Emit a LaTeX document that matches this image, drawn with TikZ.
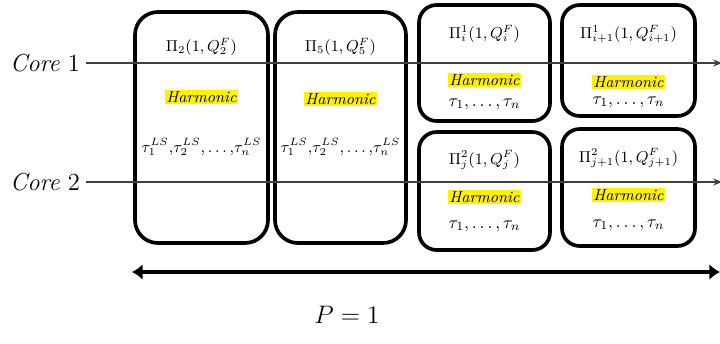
\documentclass[tikz,border=0pt]{standalone}
\usepackage{amsmath,amssymb}
\usepackage{xcolor}
\usepackage{tikz}
\usetikzlibrary{arrows.meta,positioning}

\tikzset{
  slot/.style={draw, line width=2.1pt, rounded corners=13pt, inner sep=0pt},
  smallslot/.style={slot, rounded corners=10pt},
  pilabel/.style={font=\fontsize{9}{11}\selectfont},
  harmlabel/.style={fill=yellow, inner sep=0.6pt, font=\fontsize{9}{10}\selectfont\itshape},
  taulabel/.style={font=\fontsize{10}{12}\selectfont},
  lslabel/.style={font=\fontsize{9}{11}\selectfont},
  corelabel/.style={font=\fontsize{14}{16}\selectfont},
  coreline/.style={-{Stealth[length=5pt,width=4pt]}, black!75, line width=0.6pt},
}

\begin{document}
\begin{tikzpicture}[x=0.02cm, y=-0.02cm]
  \useasboundingbox (0,0) rectangle (720,343);

  \node[slot, minimum width=2.66cm, minimum height=4.62cm] (box2) at (201.5,127.5) {};
  \node[slot, minimum width=2.62cm, minimum height=4.62cm] (box5) at (340.5,127.5) {};
  \node[smallslot, minimum width=2.62cm, minimum height=2.32cm] (boxi) at (484.5,63) {};
  \node[smallslot, minimum width=2.66cm, minimum height=2.22cm] (boxii) at (628.5,60.5) {};
  \node[smallslot, minimum width=2.62cm, minimum height=2.36cm] (boxj) at (484.5,191) {};
  \node[smallslot, minimum width=2.66cm, minimum height=2.34cm] (boxjj) at (628.5,187.5) {};

  \node[pilabel] (pi2) at (201.5,47) {$\Pi_2(1,Q_2^F)$};
  \node[harmlabel] (harm2) at (201.5,97) {Harmonic};
  \node[lslabel] (tau2) at (201.5,147) {$\tau_1^{LS}{,}\tau_2^{LS}{,}\ldots{,}\tau_n^{LS}$};

  \node[pilabel] (pi5) at (340.5,47) {$\Pi_5(1,Q_5^F)$};
  \node[harmlabel] (harm5) at (340.5,99) {Harmonic};
  \node[lslabel] (tau5) at (340.5,147) {$\tau_1^{LS}{,}\tau_2^{LS}{,}\ldots{,}\tau_n^{LS}$};

  \node[pilabel] (pii) at (484.5,34) {$\Pi_i^1(1,Q_i^F)$};
  \node[harmlabel] (harmi) at (484.5,80) {Harmonic};
  \node[taulabel] (taui) at (484.5,104) {$\tau_1,\ldots,\tau_n$};

  \node[pilabel] (piii) at (628.5,34) {$\Pi_{i+1}^1(1,Q_{i+1}^F)$};
  \node[harmlabel] (harmii) at (628.5,82) {Harmonic};
  \node[taulabel] (tauii) at (628.5,102) {$\tau_1,\ldots,\tau_n$};

  \node[pilabel] (pij) at (484.5,160) {$\Pi_j^2(1,Q_j^F)$};
  \node[harmlabel] (harmj) at (484.5,197) {Harmonic};
  \node[taulabel] (tauj) at (484.5,226) {$\tau_1,\ldots,\tau_n$};

  \node[pilabel] (pijj) at (628.5,158) {$\Pi_{j+1}^2(1,Q_{j+1}^F)$};
  \node[harmlabel] (harmjj) at (628.5,195) {Harmonic};
  \node[taulabel] (taujj) at (628.5,225) {$\tau_1,\ldots,\tau_n$};

  \node[corelabel] (core1) at (45,63) {\textit{Core} 1};
  \node[corelabel] (core2) at (45,182) {\textit{Core} 2};
  \coordinate (end1) at (722,63);
  \coordinate (end2) at (722,182);
  \draw[coreline] (core1.east) -- (end1);
  \draw[coreline] (core2.east) -- (end2);

  \coordinate (pleft) at (132,272);
  \coordinate (pright) at (720,272);
  \draw[{Latex[length=6pt,width=9pt]}-{Latex[length=6pt,width=9pt]}, line width=2.3pt] (pleft) -- (pright);
  \node[font=\fontsize{15}{18}\selectfont] (plabel) at (347,315) {$P=1$};
\end{tikzpicture}
\end{document}
